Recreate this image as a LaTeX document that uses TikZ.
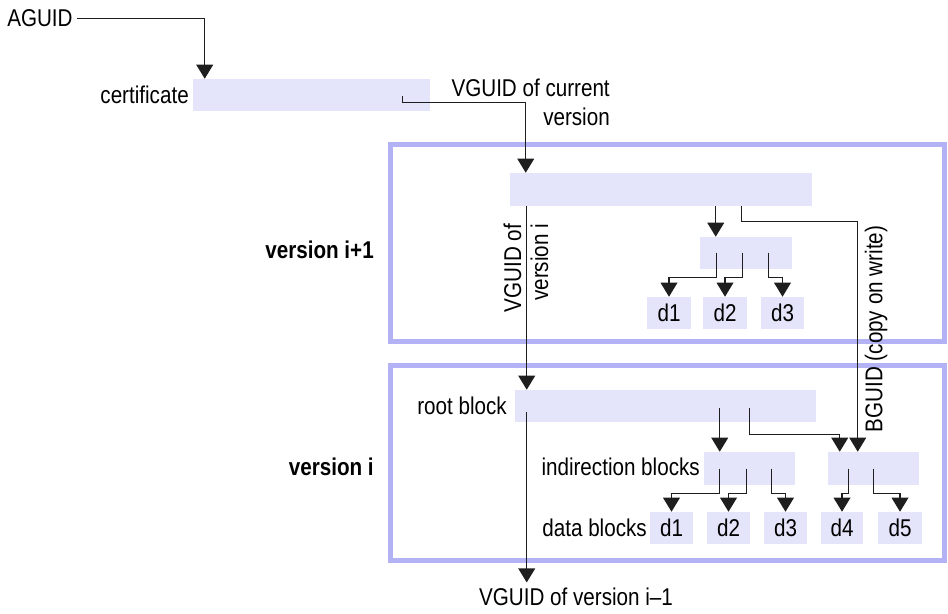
\documentclass[tikz,border=0pt]{standalone}
\usepackage{fontspec}
\setmainfont{Liberation Sans}[FakeStretch=0.85]
\usetikzlibrary{arrows.meta,calc,fit}
\definecolor{boxfill}{HTML}{E4E4FA}
\definecolor{framec}{HTML}{B2B2F5}
\definecolor{linec}{HTML}{1E1E1E}
\tikzset{
  blk/.style={fill=boxfill, draw=none, inner sep=0pt, rectangle},
  frm/.style={draw=framec, line width=3.75pt, inner sep=0pt, rectangle},
  conn/.style={draw=linec, line width=1pt, -{Triangle[width=12.5pt,length=10.5pt]}},
  lbl/.style={inner sep=0pt, font=\fontsize{18.2}{21.75}\selectfont},
  lblb/.style={inner sep=0pt, font=\fontsize{18.2}{21.75}\selectfont\bfseries},
}
\begin{document}
\begin{tikzpicture}[x=0.75pt,y=-0.75pt]
\useasboundingbox (0,0) rectangle (948,613);

% frames
\node[frm, fit={(390,144.5)(944,341.5)}] (fr1) {};
\node[frm, fit={(390,365.5)(944,560.5)}] (fr2) {};

% boxes
\node[blk, fit={(193,79)(430,111)}] (cert) {};
\node[blk, fit={(510,173)(812,206)}] (root1) {};
\node[blk, fit={(700,237)(792,269)}] (ind1) {};
\node[blk, fit={(647,297)(691,329)}] (a1) {};
\node[blk, fit={(703,297)(747,329)}] (a2) {};
\node[blk, fit={(761,297)(804,329)}] (a3) {};
\node[blk, fit={(515,390)(816,422)}] (root2) {};
\node[blk, fit={(704,452)(795,485)}] (ind3) {};
\node[blk, fit={(828,452)(919,485)}] (ind4) {};
\node[blk, fit={(650,512)(693,544)}] (b1) {};
\node[blk, fit={(707,512)(750,544)}] (b2) {};
\node[blk, fit={(764,512)(807,544)}] (b3) {};
\node[blk, fit={(821,512)(863,544)}] (b4) {};
\node[blk, fit={(878,512)(922,544)}] (b5) {};

% box labels
\node[lbl] at (a1.center) {d1};
\node[lbl] at (a2.center) {d2};
\node[lbl] at (a3.center) {d3};
\node[lbl] at (b1.center) {d1};
\node[lbl] at (b2.center) {d2};
\node[lbl] at (b3.center) {d3};
\node[lbl] at (b4.center) {d4};
\node[lbl] at (b5.center) {d5};

% text labels
\node[lbl, anchor=west] (aguid) at (7,18.5) {AGUID};
\node[lbl, anchor=east] (certl) at (189,94.5) {certificate};
\node[lbl, anchor=east, align=right] (vcur) at (610,102) {VGUID of current\\version};
\node[lblb, anchor=east] (v1) at (374,250) {version i+1};
\node[lblb, anchor=east] (v0) at (374,467) {version i};
\node[lbl, anchor=east] (rbl) at (507,406) {root block};
\node[lbl, anchor=east] (ibl) at (700,467) {indirection blocks};
\node[lbl, anchor=east] (dbl) at (647,528) {data blocks};
\node[lbl, rotate=90, align=right, font=\fontsize{18.2}{20.25}\selectfont] (vgi) at (526,268) {VGUID of\\version i};
\node[lbl, rotate=90] (bg) at (876,329) {BGUID (copy on write)};
\node[lbl] (vprev) at (576,597) {VGUID of version i--1};

% connectors
\draw[conn, shorten <=3pt] (aguid.east) -| ($(cert.north west)+(12,0)$);
\draw[conn] ($(cert.north west)+(210,17)$) -- ++(0,7) -| ($(root1.north west)+(16,0)$);
\draw[conn] ($(root1.south west)+(17,0)$) -- ($(root2.north west)+(12,0)$);
\coordinate (vs) at ($(root2.north west)+(12,22)$);
\draw[conn, shorten >=4pt] (vs) -- (vs |- vprev.north);
\draw[conn] ($(root1.south west)+(206,0)$) -- ($(ind1.north west)+(16,0)$);
\draw[conn] ($(root1.south west)+(232,0)$) -- ++(0,15) -| ($(ind4.north west)+(30,0)$);

\draw[conn] ($(ind1.north west)+(17,16)$) -- ++(0,25) -| (a1.north);
\draw[conn] ($(ind1.north west)+(43,16)$) -- ++(0,25) -| (a2.north);
\draw[conn] ($(ind1.north west)+(69,16)$) -- ++(0,25) -| (a3.north);

\draw[conn] ($(root2.north west)+(205,18)$) -- ($(ind3.north west)+(16,0)$);
\draw[conn] ($(root2.north west)+(235,18)$) -- ++(0,27) -| ($(ind4.north west)+(12,0)$);

\draw[conn] ($(ind3.north west)+(16,17)$) -- ++(0,25) -| (b1.north);
\draw[conn] ($(ind3.north west)+(43,17)$) -- ++(0,25) -| (b2.north);
\draw[conn] ($(ind3.north west)+(68,17)$) -- ++(0,25) -| (b3.north);
\draw[conn] ($(ind4.north west)+(21,17)$) -- ++(0,25) -| (b4.north);
\draw[conn] ($(ind4.north west)+(46,17)$) -- ++(0,25) -| (b5.north);
\end{tikzpicture}
\end{document}
